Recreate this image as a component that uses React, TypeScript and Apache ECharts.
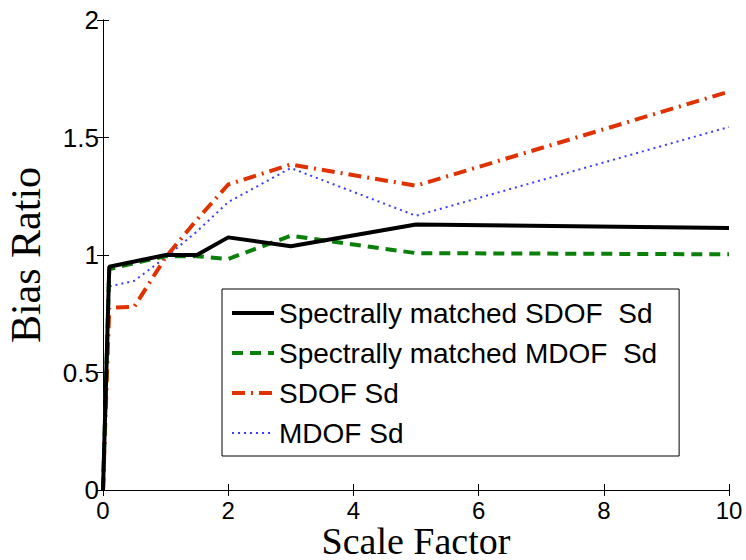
import React, { useEffect, useRef } from "react";
import * as echarts from "echarts";

const scaleFactors = [0, 0.1, 0.5, 1, 1.5, 2, 3, 5, 10];
const smSDOF = [0, 0.95, 0.972, 1.0, 1.0, 1.075, 1.037, 1.13, 1.115];
const smMDOF = [0, 0.94, 0.965, 0.995, 0.995, 0.983, 1.082, 1.008, 1.003];
const sdofSd = [0, 0.775, 0.78, 0.99, 1.15, 1.3, 1.385, 1.295, 1.695];
const mdofSd = [0, 0.866, 0.89, 0.99, 1.1, 1.225, 1.37, 1.167, 1.545];
const seriesNames = [
  "Spectrally matched SDOF  Sd",
  "Spectrally matched MDOF  Sd",
  "SDOF Sd",
  "MDOF Sd",
];

const pairs = (ys: number[]) => scaleFactors.map((x, i) => [x, ys[i]]);

export default function App() {
  const ref = useRef<HTMLDivElement>(null);
  useEffect(() => {
    if (!ref.current) return;
    const chart = echarts.init(ref.current, null, { renderer: "svg" });
    const axisCommon = {
      axisLine: { show: true, lineStyle: { color: "#000", width: 1 } },
      axisTick: { show: true, inside: true, length: 6, lineStyle: { color: "#000" } },
      splitLine: { show: false },
    };
    const legendWidths = [4, 4, 4, 2];
    chart.setOption({
      animation: false,
      backgroundColor: "#fff",
      grid: {
        left: 103,
        right: 17,
        top: 20,
        bottom: 70,
        containLabel: false,
        outerBoundsMode: "none",
      },
      legend: {
        orient: "vertical",
        left: 222,
        top: 289,
        borderColor: "#000",
        borderWidth: 1,
        backgroundColor: "#fff",
        padding: [10, 22, 9, 8],
        itemWidth: 42,
        itemHeight: 14,
        itemGap: 12,
        itemStyle: { opacity: 0 },
        textStyle: { fontFamily: "Liberation Sans", fontSize: 28, color: "#000" },
        data: seriesNames.map((n, i) => ({ name: n, lineStyle: { width: legendWidths[i] } })),
      },
      xAxis: [
        {
          type: "value",
          min: 0,
          max: 10,
          interval: 2,
          position: "bottom",
          name: "Scale Factor",
          nameLocation: "middle",
          nameGap: 32,
          nameMoveOverlap: false,
          nameTextStyle: {
            fontFamily: "Liberation Serif",
            fontSize: 38,
            color: "#000",
          },
          axisLabel: {
            fontFamily: "Liberation Sans",
            fontSize: 24,
            color: "#000",
            margin: 8,
          },
          ...axisCommon,
        },
        {
          type: "value",
          min: 0,
          max: 10,
          interval: 2,
          position: "top",
          axisLabel: { show: false },
          ...axisCommon,
        },
      ],
      yAxis: [
        {
          type: "value",
          min: 0,
          max: 2,
          interval: 0.5,
          position: "left",
          name: "Bias Ratio",
          nameLocation: "middle",
          nameGap: 56,
          nameTextStyle: { fontFamily: "Liberation Serif", fontSize: 42, color: "#000" },
          axisLabel: {
            fontFamily: "Liberation Sans",
            fontSize: 26,
            color: "#000",
            margin: 4,
          },
          ...axisCommon,
        },
        {
          type: "value",
          min: 0,
          max: 2,
          interval: 0.5,
          position: "right",
          axisLabel: { show: false },
          ...axisCommon,
        },
      ],
      series: [
        {
          name: seriesNames[0],
          type: "line",
          data: pairs(smSDOF),
          showSymbol: false,
          symbol: "none",
          lineStyle: { color: "#000", width: 4, type: "solid" },
          itemStyle: { color: "#000" },
          z: 4,
        },
        {
          name: seriesNames[1],
          type: "line",
          data: pairs(smMDOF),
          showSymbol: false,
          symbol: "none",
          lineStyle: { color: "#0a800a", width: 4, type: [11, 7] },
          itemStyle: { color: "#0a800a" },
          z: 3,
        },
        {
          name: seriesNames[2],
          type: "line",
          data: pairs(sdofSd),
          showSymbol: false,
          symbol: "none",
          lineStyle: { color: "#de3300", width: 4, type: [13, 6, 2, 6] },
          itemStyle: { color: "#de3300" },
          z: 2,
        },
        {
          name: seriesNames[3],
          type: "line",
          data: pairs(mdofSd),
          showSymbol: false,
          symbol: "none",
          lineStyle: { color: "#3c3cff", width: 2, type: [2, 4] },
          itemStyle: { color: "#3c3cff" },
          z: 1,
        },
      ],
    });
    return () => chart.dispose();
  }, []);
  return (
    <div
      ref={ref}
      style={{ position: "fixed", left: 0, top: 0, width: 746, height: 560, background: "#fff" }}
    />
  );
}
